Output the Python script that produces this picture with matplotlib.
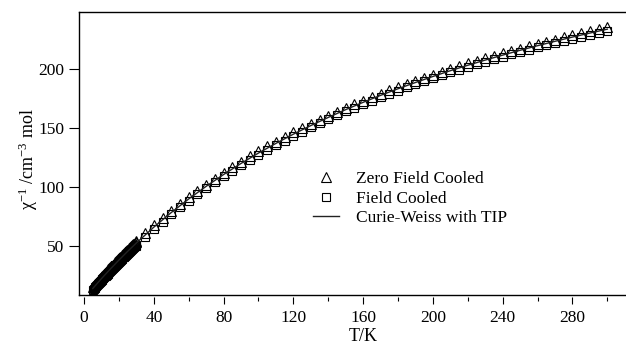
import matplotlib
matplotlib.use("Agg")
import matplotlib.pyplot as plt
from matplotlib.lines import Line2D

plt.rcParams['font.family'] = ['Liberation Serif', 'DejaVu Serif']
plt.rcParams['mathtext.fontset'] = 'custom'
plt.rcParams['mathtext.rm'] = 'Liberation Serif'
plt.rcParams['mathtext.it'] = 'Liberation Serif:italic'

# Temperatures (K): dense low-T sweep, then 5 K steps
temps = [5, 5.5, 6, 6.5, 7, 7.5, 8, 8.5, 9, 9.5, 10, 10.5, 11, 11.5, 12, 12.5, 13, 13.5,
         14, 14.5, 15, 15.5, 16, 16.5, 17, 17.5, 18, 18.5, 19, 19.5, 20, 20.5, 21, 21.5,
         22, 22.5, 23, 23.5, 24, 24.5, 25, 25.5, 26, 26.5, 27, 27.5, 28, 28.5, 29, 29.5,
         30, 35, 40, 45, 50, 55, 60, 65, 70, 75, 80, 85, 90, 95,
         100, 105, 110, 115, 120, 125, 130, 135, 140, 145, 150, 155, 160, 165, 170,
         175, 180, 185, 190, 195, 200, 205, 210, 215, 220, 225, 230, 235, 240, 245,
         250, 255, 260, 265, 270, 275, 280, 285, 290, 295, 300]

# Zero field cooled chi^-1
zfc = [15.6, 16.5, 17.3, 18.2, 19.0, 19.9, 20.7, 21.5, 22.4, 23.2, 24.0, 24.9, 25.7,
       26.5, 27.3, 28.1, 28.9, 29.7, 30.5, 31.3, 32.1, 32.9, 33.7, 34.4, 35.2, 36.0,
       36.8, 37.5, 38.3, 39.1, 39.8, 40.6, 41.3, 42.1, 42.8, 43.6, 44.3, 45.0, 45.7,
       46.5, 47.2, 47.9, 48.6, 49.4, 50.1, 50.8, 51.5, 52.2, 52.9, 53.6, 54.3,
       61.1, 67.7, 74.0, 80.0, 85.9, 91.6, 97.0, 102.3, 107.4, 112.3, 117.1, 121.7,
       126.1, 130.5, 134.6, 138.7, 142.7, 146.5, 150.2, 153.8, 157.3, 160.7, 164.1,
       167.3, 170.4, 173.5, 176.5, 179.4, 182.2, 185.0, 187.7, 190.3, 192.9, 195.4,
       197.8, 200.3, 202.6, 204.9, 207.1, 209.3, 211.4, 213.5, 215.6, 217.6, 219.6,
       221.5, 223.3, 225.2, 227.0, 228.8, 230.5, 232.2, 233.8, 235.5]

# Field cooled chi^-1
fc = [12.8, 13.7, 14.5, 15.4, 16.2, 17.1, 17.9, 18.7, 19.5, 20.3, 21.1, 22.0, 22.8,
      23.6, 24.4, 25.2, 26.0, 26.8, 27.6, 28.3, 29.1, 29.9, 30.7, 31.5, 32.3, 33.0,
      33.8, 34.5, 35.3, 36.0, 36.8, 37.6, 38.3, 39.0, 39.8, 40.6, 41.3, 42.0, 42.7,
      43.5, 44.2, 44.9, 45.6, 46.3, 47.0, 47.8, 48.5, 49.2, 49.9, 50.6, 51.3,
      58.1, 64.6, 70.9, 77.0, 82.9, 88.5, 94.0, 99.3, 104.3, 109.3, 114.0, 118.6,
      123.1, 127.4, 131.6, 135.7, 139.6, 143.5, 147.2, 150.8, 154.3, 157.7, 161.0,
      164.3, 167.4, 170.5, 173.5, 176.4, 179.2, 182.0, 184.7, 187.3, 189.9, 192.4,
      194.8, 197.3, 199.6, 201.9, 204.1, 206.3, 208.4, 210.5, 212.6, 214.6, 216.6,
      218.5, 220.3, 222.2, 224.0, 225.8, 227.5, 229.2, 230.8, 232.5]

# Curie-Weiss with TIP fit line
fit_t = [5, 10, 15, 20, 25, 30, 40, 50, 60, 70, 80, 90, 100, 110, 120, 130, 140, 150,
         160, 170, 180, 190, 200, 210, 220, 230, 240, 250, 260, 270, 280, 290, 300]
fit_y = [14.2, 22.6, 30.6, 38.3, 45.7, 52.8, 66.2, 78.6, 90.1, 100.8, 110.8, 120.2,
         129.0, 137.2, 145.0, 152.3, 159.2, 165.8, 172.0, 177.9, 183.5, 188.8, 193.9,
         198.8, 203.4, 207.8, 212.0, 216.1, 220.0, 223.7, 227.3, 230.7, 234.0]

labels = ['Zero Field Cooled', 'Field Cooled', 'Curie-Weiss with TIP']

W, H = 626, 348
fig = plt.figure(figsize=(W / 100, H / 100), dpi=100)
ax = fig.add_axes([79 / W, 53 / H, (W - 79) / W, (336.3 - 53) / H])

ax.plot(temps, zfc, linestyle='none', marker='^', ms=6.5, mfc='none', mec='black',
        mew=0.8, zorder=2)
ax.plot(temps, fc, linestyle='none', marker='s', ms=6.0, mfc='none', mec='black',
        mew=0.8, zorder=3)
ax.plot(fit_t, fit_y, color='#222222', lw=1.0, zorder=4)

ax.set_xlim(-2.9, 310.7)
ax.set_ylim(8.7, 248.8)
ax.set_xticks(range(0, 320, 40))
ax.set_xticks(range(20, 320, 40), minor=True)
ax.set_yticks([50, 100, 150, 200])

for s in ['left', 'top']:
    ax.spines[s].set_linewidth(1.0)
ax.spines['right'].set_visible(False)
ax.spines['bottom'].set_position(('outward', 1.5))
ax.spines['bottom'].set_visible(False)
ax.add_line(Line2D([0, 1], [0, 0], transform=ax.transAxes, color='black', lw=1.0,
                   clip_on=False))

ax.tick_params(axis='x', which='major', direction='out', length=5, width=0.8,
               labelsize=12.5, pad=4)
ax.tick_params(axis='x', which='minor', direction='out', length=3, width=0.8)
ax.tick_params(axis='y', which='major', direction='out', length=7, width=0.8,
               labelsize=12.5, pad=3.5)

ax.set_xlabel('T/K', fontsize=13)
ax.xaxis.set_label_coords((363 - 79) / (W - 79), -0.115)
ax.set_ylabel('χ$^{-1}$ /cm$^{-3}$ mol', fontsize=13)
ax.yaxis.set_label_coords(-(79 - 40) / (W - 79), 0.48)

handles = [
    Line2D([], [], linestyle='none', marker='^', ms=6.5, mfc='none', mec='black', mew=0.8),
    Line2D([], [], linestyle='none', marker='s', ms=6.0, mfc='none', mec='black', mew=0.8),
    Line2D([], [], color='#222222', lw=1.0),
]
leg = ax.legend(handles, labels, frameon=False, fontsize=12.5, handlelength=1.5,
                handletextpad=1.0, labelspacing=0.2, borderpad=0, borderaxespad=0,
                loc='upper left',
                bbox_to_anchor=(313 / W, (H - 171) / H), bbox_transform=fig.transFigure)

fig.savefig('out.png', dpi=100)
